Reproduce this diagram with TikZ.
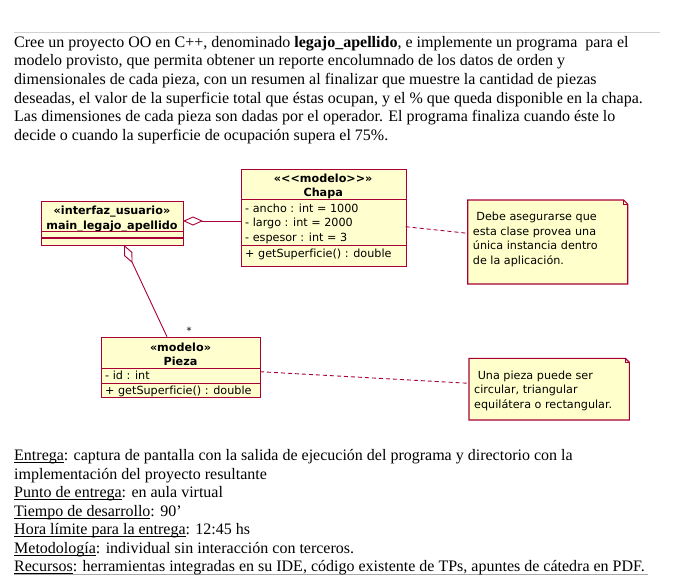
\documentclass[tikz,border=0pt]{standalone}
\usepackage{fontspec}
\setmainfont{Liberation Serif}
\newfontfamily\umlfont[Ligatures=NoCommon]{DejaVu Sans}
\usetikzlibrary{arrows.meta,calc}
\definecolor{umlred}{HTML}{A80036}
\definecolor{umlfill}{HTML}{FEFECE}
\definecolor{notefill}{HTML}{FFFFCC}
\definecolor{rulegray}{HTML}{D0D0D0}
\newcommand\uln[1]{\leavevmode\setbox0\hbox{#1}\rlap{\rule[-2.6pt]{\wd0}{0.8pt}}\box0}
\tikzset{
  txt/.style={inner sep=0pt, anchor=base west, font=\fontsize{16}{18.7}\selectfont},
  umlbox/.style={draw=umlred, fill=umlfill, line width=1.1pt, inner sep=0pt, anchor=north west},
  umltxt/.style={inner sep=0pt, anchor=base west, font=\umlfont\fontsize{11.2}{14}\selectfont},
  umlctr/.style={inner sep=0pt, anchor=base, font=\umlfont\bfseries\fontsize{11.2}{14}\selectfont},
  sep/.style={draw=umlred, line width=1.1pt},
  conn/.style={draw=umlred, line width=0.9pt},
  notelink/.style={draw=umlred, line width=0.9pt, dash pattern=on 4pt off 3pt},
  notebox/.style={inner sep=0pt, anchor=north west},
  noteedge/.style={draw=umlred, fill=notefill, line width=1.1pt},
}
\begin{document}
\begin{tikzpicture}[x=1pt,y=-1pt]
\useasboundingbox (0,0) rectangle (687,581);
% top and bottom rules
\draw[rulegray, line width=0.4pt] (14,32) -- (660,32);
\draw[rulegray!80!black, line width=0.8pt] (14,574) -- (648,574);
% intro text
\node[txt] (t1) at (14,47) {Cree un proyecto OO en C++, denominado \textbf{legajo\_apellido}, e implemente un programa\ \ para el};
\node[txt] (t2) at (14,65.7) {modelo provisto, que permita obtener un reporte encolumnado de los datos de orden y};
\node[txt] (t3) at (14,84.4) {dimensionales de cada pieza, con un resumen al finalizar que muestre la cantidad de piezas};
\node[txt] (t4) at (14,103.1) {deseadas, el valor de la superficie total que éstas ocupan, y el \% que queda disponible en la chapa.};
\node[txt] (t5) at (14,121.8) {Las dimensiones de cada pieza son dadas por el operador. El programa finaliza cuando éste lo};
\node[txt] (t6) at (14,140.5) {decide o cuando la superficie de ocupación supera el 75\%.};

% main class
\node[umlbox, minimum width=142pt, minimum height=44.5pt] (main) at (41,200.5) {};
\node[umlctr] (mainst) at (112,214.7) {«interfaz\_usuario»};
\node[umlctr] (mainnm) at (112,229) {main\_legajo\_apellido};
\draw[sep] (41,231.7) -- (183,231.7);
\draw[sep] (41,238) -- (183,238);

% Chapa class
\node[umlbox, minimum width=165pt, minimum height=97pt] (chapa) at (240.7,169.3) {};
\node[umlctr] (chst) at (323.2,182) {«<<modelo>>»};
\node[umlctr] (chnm) at (323.2,196.5) {Chapa};
\draw[sep] (240.7,199.3) -- (405.7,199.3);
\node[umltxt] (cha1) at (245,212) {- ancho : int = 1000};
\node[umltxt] (cha2) at (245,226.7) {- largo : int = 2000};
\node[umltxt] (cha3) at (245,241.4) {- espesor : int = 3};
\draw[sep] (240.7,245.7) -- (405.7,245.7);
\node[umltxt] (chm1) at (245,257) {+ getSuperficie() : double};

% Pieza class
\node[umlbox, minimum width=159pt, minimum height=60pt] (pieza) at (101,336.7) {};
\node[umlctr] (pst) at (180.5,351) {«modelo»};
\node[umlctr] (pnm) at (180.5,365.3) {Pieza};
\draw[sep] (101,368.2) -- (260,368.2);
\node[umltxt] (pa1) at (105,379.3) {- id : int};
\draw[sep] (101,383.4) -- (260,383.4);
\node[umltxt] (pm1) at (105,394.2) {+ getSuperficie() : double};

% aggregations
\coordinate (aggA) at (183,221);
\coordinate (aggAend) at (240.7,221);
\draw[conn, {Diamond[open,length=20pt,width=9pt,fill=white]}-] (aggA) -- (aggAend);
\coordinate (aggB) at (124,245);
\coordinate (aggBend) at (167,336.7);
\draw[conn, {Diamond[open,length=20pt,width=9pt,fill=white]}-] (aggB) -- (aggBend);
\node[inner sep=0pt, font=\umlfont\fontsize{10}{12}\selectfont] (mult) at (189,331) {*};

% note 1
\node[notebox, minimum width=160pt, minimum height=84pt] (n1) at (467.7,200) {};
\draw[noteedge] (467.7,200) -- (623.7,200) -- (627.7,204) -- (627.7,284) -- (467.7,284) -- cycle;
\draw[umlred, line width=0.7pt] (623.7,200) -- (623.7,204) -- (627.7,204);
\node[umltxt] (n1a) at (472.7,220.5) {\ Debe asegurarse que};
\node[umltxt] (n1b) at (472.7,235.1) {esta clase provea una};
\node[umltxt] (n1c) at (472.7,249.7) {única instancia dentro};
\node[umltxt] (n1d) at (472.7,264.3) {de la aplicación.};

% note 2
\node[notebox, minimum width=160pt, minimum height=62pt] (n2) at (469,358.3) {};
\draw[noteedge] (469,358.3) -- (625.3,358.3) -- (629.3,362.3) -- (629.3,420) -- (469,420) -- cycle;
\draw[umlred, line width=0.7pt] (625.3,358.3) -- (625.3,362.3) -- (629.3,362.3);
\node[umltxt] (n2a) at (474,379) {\ Una pieza puede ser};
\node[umltxt] (n2b) at (474,393.5) {circular, triangular};
\node[umltxt] (n2c) at (474,408) {equilátera o rectangular.};

% note links
\coordinate (l1s) at (405.7,226.7);
\coordinate (l1e) at (467.7,233.3);
\draw[notelink] (l1s) -- (l1e);
\coordinate (l2s) at (260,371.7);
\coordinate (l2e) at (469,383.3);
\draw[notelink] (l2s) -- (l2e);

% bottom text
\node[txt] (b1) at (14,460.5) {\uln{Entrega}: captura de pantalla con la salida de ejecución del programa y directorio con la};
\node[txt] (b2) at (14,479) {implementación del proyecto resultante};
\node[txt] (b3) at (14,497.5) {\uln{Punto de entrega}: en aula virtual};
\node[txt] (b4) at (14,516) {\uln{Tiempo de desarrollo}: 90’};
\node[txt] (b5) at (14,534.5) {\uln{Hora límite para la entrega}: 12:45 hs};
\node[txt] (b6) at (14,553) {\uln{Metodología}: individual sin interacción con terceros.};
\node[txt] (b7) at (14,571.5) {\uln{Recursos}: herramientas integradas en su IDE, código existente de TPs, apuntes de cátedra en PDF.};
\end{tikzpicture}
\end{document}
